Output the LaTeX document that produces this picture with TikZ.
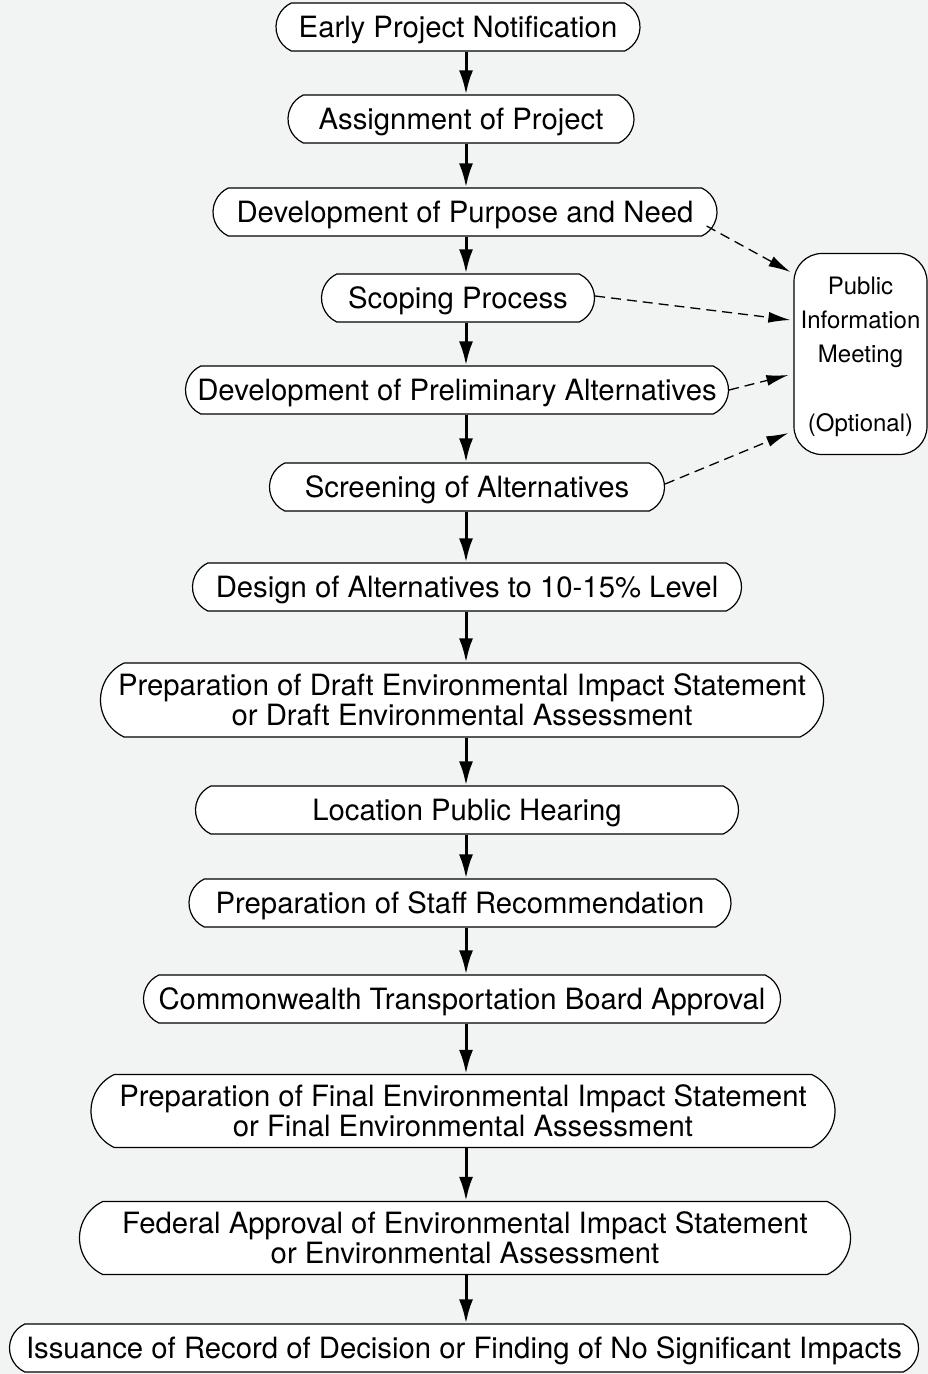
\documentclass[tikz,border=0pt]{standalone}
\usepackage{fontspec}
\setmainfont{TeX Gyre Heros}
\usetikzlibrary{shapes.misc,arrows.meta,calc}
\definecolor{bgcol}{RGB}{242,243,243}
\tikzset{
  x=1pt, y=-1pt,
  stage/.style = {rounded rectangle, rounded rectangle arc length=130, draw=black, line width=1.2pt,
    fill=white, align=center, inner sep=2pt, text depth=0pt, font=\fontsize{29.3}{30}\selectfont,
    minimum height=48pt},
  meeting/.style = {rectangle, rounded corners=28pt, draw=black, line width=1.2pt, fill=white,
    align=center, inner sep=2pt, text depth=0pt, font=\fontsize{24}{34.3}\selectfont},
  flow/.style = {line width=3pt, -{Latex[length=24pt,width=14pt]}},
  optional/.style = {line width=1.3pt, dash pattern=on 10pt off 6pt, -{Latex[length=22pt,width=11pt]}}
}

\begin{document}
\begin{tikzpicture}
\useasboundingbox[fill=bgcol] (0,0) rectangle (928,1374);
\coordinate (axis) at (466,0);

\node [stage, minimum width=368pt] (epn)   at (458,27)   {Early Project Notification};
\node [stage, minimum width=350pt] (ap)    at (461,119)  {Assignment of Project};
\node [stage, minimum width=508pt] (dpn)   at (465,212)  {Development of Purpose and Need};
\node [stage, minimum width=277pt] (sp)    at (458,298)  {Scoping Process};
\node [stage, minimum width=547pt] (dpa)   at (457,390)  {Development of Preliminary Alternatives};
\node [stage, minimum width=399pt] (sa)    at (467,487)  {Screening of Alternatives};
\node [stage, minimum width=553pt] (da)    at (467,587)  {Design of Alternatives to 10-15\% Level};
\node [stage, minimum width=727pt, minimum height=74pt] (pdeis) at (462,700)
  {Preparation of Draft Environmental Impact Statement\\or Draft Environmental Assessment};
\node [stage, minimum width=547pt] (lph)   at (467,810)  {Location Public Hearing};
\node [stage, minimum width=546pt] (psr)   at (460,903)  {Preparation of Staff Recommendation};
\node [stage, minimum width=641pt] (ctb)   at (462,999)  {Commonwealth Transportation Board Approval};
\node [stage, minimum width=748pt, minimum height=73pt] (pfeis) at (463,1111)
  {Preparation of Final Environmental Impact Statement\\or Final Environmental Assessment};
\node [stage, minimum width=775pt, minimum height=73pt] (fa)    at (465,1238)
  {Federal Approval of Environmental Impact Statement\\or Environmental Assessment};
\node [stage, minimum width=913pt] (ird)   at (464,1348)
  {Issuance of Record of Decision or Finding of No Significant Impacts};

\node [meeting, minimum width=133pt, minimum height=201pt] (pim) at (860.5,354)
  {Public\\Information\\Meeting\\[34.3pt](Optional)};

% main sequence
\draw [flow] (epn.south -| axis)   -- (ap.north -| axis);
\draw [flow] (ap.south -| axis)    -- (dpn.north -| axis);
\draw [flow] (dpn.south -| axis)   -- (sp.north -| axis);
\draw [flow] (sp.south -| axis)    -- (dpa.north -| axis);
\draw [flow] (dpa.south -| axis)   -- (sa.north -| axis);
\draw [flow] (sa.south -| axis)    -- (da.north -| axis);
\draw [flow] (da.south -| axis)    -- (pdeis.north -| axis);
\draw [flow] (pdeis.south -| axis) -- (lph.north -| axis);
\draw [flow] (lph.south -| axis)   -- (psr.north -| axis);
\draw [flow] (psr.south -| axis)   -- (ctb.north -| axis);
\draw [flow] (ctb.south -| axis)   -- (pfeis.north -| axis);
\draw [flow] (pfeis.south -| axis) -- (fa.north -| axis);
\draw [flow] (fa.south -| axis)    -- (ird.north -| axis);

% optional meeting
\draw [optional] ([xshift=-11pt,yshift=-14pt]dpn.east) -- ([xshift=-3pt,yshift=82pt]pim.west);
\draw [optional] ([yshift=2pt]sp.east)  -- ([xshift=-3pt,yshift=34pt]pim.west);
\draw [optional] (dpa.east)             -- ([xshift=-5pt,yshift=-21pt]pim.west);
\draw [optional] ([yshift=3pt]sa.east)  -- ([xshift=-5pt,yshift=-79pt]pim.west);
\end{tikzpicture}
\end{document}
